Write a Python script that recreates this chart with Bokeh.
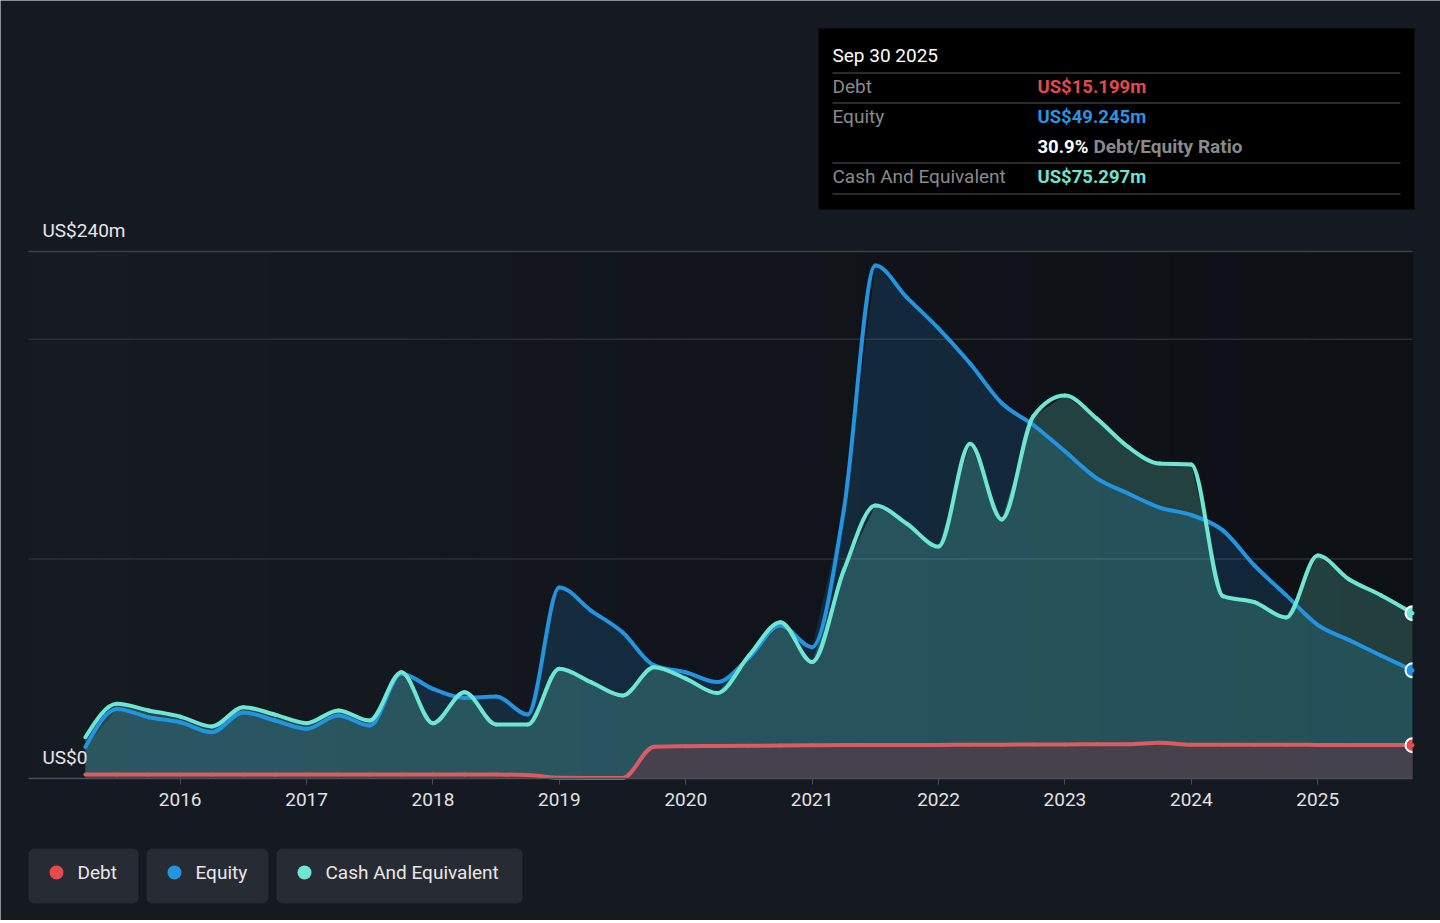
import numpy as np
from bokeh.plotting import figure
from bokeh.models import Range1d, FixedTicker, BoxAnnotation, ColumnDataSource
from bokeh.core.properties import value
from bokeh.embed import file_html
from bokeh.resources import INLINE

# ---------------- data (US$ m, quarter ends) ----------------
dates = [f"{y}-{md}" for y in range(2015, 2026)
         for md in ("03-31", "06-30", "09-30", "12-31")][:-1]

debt = [1.8, 1.8, 1.8, 1.8, 1.8, 1.8, 1.8, 1.8, 1.8, 1.8, 1.8, 1.8, 1.8, 1.8,
        1.6, 0.3, 0.2, 0.2, 14.5, 14.7, 14.8, 14.9, 15.0, 15.1, 15.2, 15.2,
        15.3, 15.3, 15.4, 15.4, 15.5, 15.5, 15.6, 15.6, 16.3, 15.4, 15.4, 15.4,
        15.4, 15.3, 15.2, 15.2, 15.199]

equity = [14.3, 31.7, 27.9, 25.6, 21.1, 30.1, 26.4, 22.6, 28.7, 24.1,
          47.7, 40.8, 36.7, 37.3, 29.1, 87.0, 76.5, 66.6, 51.5, 48.4,
          43.9, 55.0, 69.7, 59.8, 122.0, 233.6, 219.0, 205.0, 189.0, 171.0,
          161.0, 149.0, 136.8, 129.8, 123.4, 120.0, 113.0, 97.0, 83.5, 70.0,
          63.0, 56.0, 49.245]

cash = [18.8, 34.0, 31.0, 28.2, 23.7, 32.5, 29.1, 25.2, 31.0, 26.4,
        48.4, 25.2, 39.3, 24.6, 24.6, 50.0, 43.9, 37.8, 50.7, 45.5,
        38.9, 56.0, 71.2, 53.0, 94.7, 124.3, 116.0, 105.6, 152.5, 118.0,
        165.0, 174.4, 164.0, 151.0, 143.4, 143.0, 83.0, 80.3, 73.3, 101.5,
        90.6, 83.5, 75.297]

series_names = ["Debt", "Equity", "Cash And Equivalent"]
series_colors = ["#e84a4c", "#2394df", "#6ee6d2"]
line_colors = ["#d95c60", "#2394df", "#6ee6d2"]
tick_years = list(range(2016, 2026))
grid_ticks = [100, 200]
top_value = 240

tooltip_date = "Sep 30 2025"
tooltip_rows = [("Debt", "US$15.199m"), ("Equity", "US$49.245m"),
                ("", "30.9%"), ("Cash And Equivalent", "US$75.297m")]
ratio_text = "Debt/Equity Ratio"

FONT = value("Roboto")
FS = "19px"
PAGE_BG = "#151a22"

# decimal years
xs = np.array([int(d[:4]) + int(d[5:7]) / 12.0 for d in dates])


def monotone_bezier(x, y):
    x = np.asarray(x, float)
    y = np.asarray(y, float)
    h = np.diff(x)
    s = np.diff(y) / h
    n = len(x)
    m = np.zeros(n)
    for i in range(1, n - 1):
        s0, s1 = s[i - 1], s[i]
        p_ = (s0 * h[i] + s1 * h[i - 1]) / (h[i - 1] + h[i])
        m[i] = (np.sign(s0) + np.sign(s1)) * min(abs(s0), abs(s1), 0.5 * abs(p_))
    m[0] = (3 * s[0] - m[1]) / 2
    m[-1] = (3 * s[-1] - m[-2]) / 2
    return dict(x0=x[:-1], y0=y[:-1], x1=x[1:], y1=y[1:],
                cx0=x[:-1] + h / 3, cy0=y[:-1] + m[:-1] * h / 3,
                cx1=x[1:] - h / 3, cy1=y[1:] - m[1:] * h / 3)


# ---------------- layout (page pixels -> data) ----------------
W, H = 1440, 920
PLOT_L, PLOT_R, AXIS_Y = 28, 1412, 778
x_left, x_right = 2014.80, xs[-1]
XPP = (x_right - x_left) / (PLOT_R - PLOT_L)   # years per pixel
YPP = 240.0 / 527.0                             # US$m per pixel


def dx(px):
    return x_left + (px - PLOT_L) * XPP


def dy(py):
    return (AXIS_Y - py) * YPP


p = figure(width=W, height=H, x_range=Range1d(dx(0), dx(W)),
           y_range=Range1d(dy(H), dy(0)), output_backend="svg",
           toolbar_location=None, min_border=0)
p.background_fill_color = PAGE_BG
p.border_fill_color = PAGE_BG
p.outline_line_color = None
p.yaxis.visible = False
p.grid.visible = False

# plot-area background gradient (darker to the right)
n_str = 40
c0 = np.array([22, 27, 34])
c1 = np.array([13, 16, 21])
edges = np.linspace(x_left, x_right, n_str + 1)
for i in range(n_str):
    c = (c0 + (c1 - c0) * i / (n_str - 1)).round().astype(int)
    p.add_layout(BoxAnnotation(left=edges[i], right=edges[i + 1] + 0.005,
                               bottom=0, top=top_value, level="image",
                               fill_color="#%02x%02x%02x" % tuple(c),
                               fill_alpha=1.0, line_color=None))

# grid lines
p.segment(x0=[x_left] * len(grid_ticks), x1=[x_right] * len(grid_ticks),
          y0=grid_ticks, y1=grid_ticks, line_color="#2a2f37", line_width=1.5)
p.segment(x0=[x_left], x1=[x_right], y0=[top_value], y1=[top_value],
          line_color="#3b4149", line_width=1.5)

# x axis at y = 0
ax = p.xaxis[0]
ax.fixed_location = 0
ax.bounds = (x_left, x_right)
ax.ticker = FixedTicker(ticks=tick_years)
ax.axis_line_color = "#4a4f57"
ax.axis_line_width = 1.5
ax.major_tick_line_color = "#4a4f57"
ax.major_tick_out = 6
ax.major_tick_in = 0
ax.minor_tick_line_color = None
ax.major_label_text_color = "#e2e2e2"
ax.major_label_text_font = "Roboto"
ax.major_label_text_font_size = FS
ax.major_label_standoff = 8

# areas
p.varea(x=xs, y1=0, y2=equity, fill_color=series_colors[1], fill_alpha=0.17)
p.varea(x=xs, y1=0, y2=cash, fill_color=series_colors[2], fill_alpha=0.22)
p.varea(x=xs, y1=0, y2=debt, fill_color="#47414c", fill_alpha=0.95)

# smooth lines
for vals, col in ((equity, line_colors[1]), (cash, line_colors[2]), (debt, line_colors[0])):
    src = ColumnDataSource(monotone_bezier(xs, vals))
    p.bezier(x0="x0", y0="y0", x1="x1", y1="y1", cx0="cx0", cy0="cy0",
             cx1="cx1", cy1="cy1", source=src, line_color=col,
             line_width=4, line_cap="round")

# end markers (cut at the plot edge)
for vals, col in ((cash, line_colors[2]), (equity, line_colors[1]), (debt, series_colors[0])):
    p.wedge(x=[xs[-1]], y=[vals[-1]], radius=7, radius_units="screen",
            start_angle=np.pi / 2, end_angle=3 * np.pi / 2,
            fill_color=col, line_color=None)
    p.arc(x=[xs[-1]], y=[vals[-1]], radius=7, radius_units="screen",
          start_angle=np.pi / 2, end_angle=3 * np.pi / 2,
          line_color="white", line_width=2)

# y labels
p.text(x=[dx(42)], y=[dy(230)], text=[f"US${top_value}m"], text_font=FONT,
       text_font_size=FS, text_color="#e6e6e6", text_baseline="middle",
       text_align="left")
p.text(x=[dx(42)], y=[dy(757)], text=["US$0"], text_font=FONT,
       text_font_size=FS, text_color="#e6e6e6", text_baseline="middle",
       text_align="left")

# tooltip box
p.quad(left=[dx(818)], right=[dx(1414)], top=[dy(28)], bottom=[dy(209)],
       fill_color="#000000", line_color=None)
sep_y = [dy(v) for v in (72.5, 102.5, 162.5, 193.5)]
p.segment(x0=[dx(832)] * 4, x1=[dx(1400)] * 4, y0=sep_y, y1=sep_y,
          line_color="#3a3a3a", line_width=1.5)
p.text(x=[dx(832)], y=[dy(55)], text=[tooltip_date], text_font=FONT,
       text_font_size=FS, text_color="#ffffff", text_baseline="middle")
row_y = [dy(v) for v in (86, 116, 146, 176)]
value_colors = ["#e5484d", "#2b95e1", "#ffffff", "#6fe3cf"]
p.text(x=[dx(832)] * 4, y=row_y, text=[r[0] for r in tooltip_rows],
       text_font=FONT, text_font_size=FS, text_color="#8a8a8a",
       text_baseline="middle")
p.text(x=[dx(1037)] * 4, y=row_y, text=[r[1] for r in tooltip_rows],
       text_font=FONT, text_font_size="18.5px", text_color=value_colors,
       text_font_style="bold", text_baseline="middle")
p.text(x=[dx(1093)], y=[dy(146)], text=[ratio_text], text_font=FONT,
       text_font_size=FS, text_color="#8a8a8a", text_font_style="bold",
       text_baseline="middle")

# legend chips
box_l = [dx(v) for v in (28, 146, 276)]
box_r = [dx(v) for v in (138, 268, 522)]
box_t = [dy(848)] * 3
box_b = [dy(903)] * 3
try:
    p.quad(left=box_l, right=box_r, top=box_t, bottom=box_b,
           fill_color="#272b33", line_color=None, border_radius=6)
except Exception:
    p.quad(left=box_l, right=box_r, top=box_t, bottom=box_b,
           fill_color="#272b33", line_color=None)
p.scatter(x=[dx(v) for v in (56, 174, 304)], y=[dy(872)] * 3, size=14,
          fill_color=series_colors, line_color=None)
p.text(x=[dx(v) for v in (77, 195, 325)], y=[dy(872)] * 3, text=series_names,
       text_font=FONT, text_font_size=FS, text_color="#e8e8e8",
       text_baseline="middle")

open("out.html", "w").write(file_html(p, INLINE))
